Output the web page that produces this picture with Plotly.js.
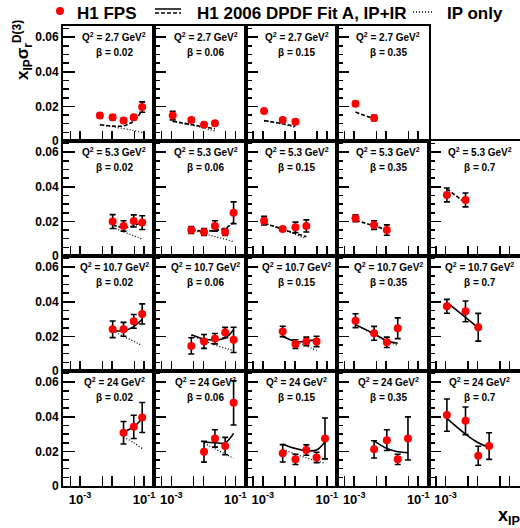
<!DOCTYPE html>
<html><head><meta charset="utf-8">
<script src="https://cdn.plot.ly/plotly-3.0.1.min.js"></script>
<style>html,body{margin:0;padding:0;background:#fff;}#chart{width:520px;height:528px;}</style>
</head><body><div id="chart"></div><script>
// Panel grid: rows = Q^2, columns = beta
const q2Labels = ['2.7', '5.3', '10.7', '24'];
const betaLabels = ['0.02', '0.06', '0.15', '0.35', '0.7'];
const xLabelVals = [0.001, 0.1];
const xLabelText = ['10<sup>-3</sup>', '10<sup>-1</sup>'];
const xMinorVals = [0.0005, 0.005, 0.01, 0.05];

// Q^2 = 2.7 GeV^2 (one entry per beta column)
const xipQ27 = [[0.0042, 0.0105, 0.023, 0.048, 0.088], [0.0011, 0.0042, 0.0105, 0.023], [0.0011, 0.0042, 0.0105], [0.0011, 0.0042], []];
const sigQ27 = [[0.0147, 0.0137, 0.0118, 0.0137, 0.0196], [0.0147, 0.0122, 0.0094, 0.0102], [0.0173, 0.0122, 0.0112], [0.0216, 0.0133], []];
const errQ27 = [[0.0015, 0.0015, 0.0012, 0.0014, 0.003], [0.0025, 0.0012, 0.0012, 0.0012], [0.001, 0.0012, 0.0012], [0.0012, 0.0015], []];
const fitAQ27 = [[0.0094, 0.0086, 0.0088, 0.0115, 0.0178], [0.0114, 0.0095, 0.0082, 0.0071], [0.0118, 0.0100, 0.0085], [0.0167, 0.0128], []];
const ipOnlyQ27 = [[0.0094, 0.0082, 0.0072, 0.0060, 0.0050], [0.0112, 0.0092, 0.0075, 0.0058], [0.0117, 0.0097, 0.0079], [], []];

// Q^2 = 5.3 GeV^2
const xipQ53 = [[0.0105, 0.023, 0.048, 0.088], [0.0042, 0.0105, 0.023, 0.048, 0.088], [0.0011, 0.0042, 0.0105, 0.023], [0.0011, 0.0042, 0.0105], [0.0011, 0.0042]];
const sigQ53 = [[0.0199, 0.0174, 0.0203, 0.0193], [0.015, 0.0139, 0.0174, 0.0139, 0.025], [0.0204, 0.0156, 0.0166, 0.0174], [0.0218, 0.0179, 0.015], [0.0353, 0.0324]];
const errQ53 = [[0.004, 0.003, 0.0035, 0.004], [0.002, 0.002, 0.003, 0.002, 0.0063], [0.0025, 0.0012, 0.003, 0.0035], [0.002, 0.0025, 0.003], [0.004, 0.004]];
const fitAQ53 = [[0.0180, 0.0165, 0.0175, 0.0195], [0.0152, 0.0143, 0.0148, 0.0160, 0.0195], [0.019, 0.0155, 0.0131, 0.0112], [0.0206, 0.0175, 0.0150], [0.039, 0.0305]];
const ipOnlyQ53 = [[0.0166, 0.0140, 0.0117, 0.0097], [0.0152, 0.0130, 0.0113, 0.0097, 0.0083], [0.019, 0.0153, 0.0125, 0.0100], [], []];

// Q^2 = 10.7 GeV^2
const xipQ107 = [[0.0105, 0.023, 0.048, 0.088], [0.0042, 0.0105, 0.023, 0.048, 0.088], [0.0042, 0.0105, 0.023, 0.048], [0.0011, 0.0042, 0.0105, 0.023], [0.0011, 0.0042, 0.0105]];
const sigQ107 = [[0.0241, 0.0241, 0.0287, 0.033], [0.0145, 0.0171, 0.0187, 0.0222, 0.018], [0.0229, 0.0156, 0.0171, 0.0171], [0.0291, 0.0218, 0.0166, 0.0247], [0.0374, 0.0345, 0.0253]];
const errQ107 = [[0.0048, 0.004, 0.004, 0.0058], [0.0047, 0.004, 0.003, 0.003, 0.0073], [0.003, 0.0025, 0.0025, 0.003], [0.004, 0.004, 0.003, 0.006], [0.004, 0.006, 0.008]];
const fitAQ107 = [[0.0233, 0.0233, 0.0257, 0.0301], [0.021, 0.0185, 0.018, 0.0191, 0.0239], [0.0199, 0.0171, 0.0171, 0.0185], [0.0268, 0.0215, 0.0175, 0.016], [0.0397, 0.031, 0.0249]];
const ipOnlyQ107 = [[0.0233, 0.0200, 0.0172, 0.0147], [0.0205, 0.0175, 0.0150, 0.0132, 0.0118], [0.0198, 0.0168, 0.0145, 0.0118], [0.0266, 0.0212, 0.0170, 0.0150], []];

// Q^2 = 24 GeV^2
const xipQ24 = [[0.023, 0.048, 0.088], [0.0105, 0.023, 0.048, 0.088], [0.0042, 0.0105, 0.023, 0.048, 0.088], [0.0042, 0.0105, 0.023, 0.048], [0.0011, 0.0042, 0.0105, 0.023]];
const sigQ24 = [[0.0308, 0.0342, 0.0396], [0.0198, 0.0275, 0.0231, 0.0481], [0.0189, 0.0154, 0.0208, 0.0165, 0.0275], [0.0212, 0.0265, 0.0154, 0.0275], [0.041, 0.0377, 0.0175, 0.0231]];
const errQ24 = [[0.0065, 0.0067, 0.0087], [0.006, 0.005, 0.005, 0.0128], [0.005, 0.003, 0.003, 0.003, 0.0118], [0.005, 0.006, 0.003, 0.0125], [0.0093, 0.008, 0.0055, 0.0077]];
const fitAQ24 = [[0.0313, 0.0342, 0.039], [0.0256, 0.025, 0.025, 0.0304], [0.0242, 0.0217, 0.0204, 0.0208, 0.0256], [0.0261, 0.0217, 0.0198, 0.0192], [0.0391, 0.030, 0.025, 0.0223]];
const ipOnlyQ24 = [[0.0285, 0.025, 0.0217], [0.0248, 0.0215, 0.0185, 0.016], [0.021, 0.0185, 0.0163, 0.0145, 0.0131], [], []];

const rowsX = [xipQ27, xipQ53, xipQ107, xipQ24];
const rowsSig = [sigQ27, sigQ53, sigQ107, sigQ24];
const rowsErr = [errQ27, errQ53, errQ107, errQ24];
const rowsFit = [fitAQ27, fitAQ53, fitAQ107, fitAQ24];
const rowsIP = [ipOnlyQ27, ipOnlyQ53, ipOnlyQ107, ipOnlyQ24];

// page geometry (pixels)
const W = 520, H = 528;
const left0 = 63, colW = 91.4, top0 = 26, rowH = 115;
const FONT = 'Liberation Sans, Arial, Helvetica, sans-serif';

const traces = [];
const layout = {
  width: W, height: H,
  margin: {l: 0, r: 0, t: 0, b: 0},
  paper_bgcolor: '#fff', plot_bgcolor: '#fff',
  showlegend: false,
  font: {family: FONT, color: '#000'},
  annotations: [], shapes: []
};

let n = 0;
for (let r = 0; r < 4; r++) {
  for (let c = 0; c < 5; c++) {
    n++;
    const xs = n === 1 ? '' : String(n);
    const xName = 'xaxis' + xs, yName = 'yaxis' + xs;
    const xRef = 'x' + xs, yRef = 'y' + xs;
    const x0 = left0 + c * colW, x1 = x0 + colW;
    const yTop = top0 + r * rowH, yBot = yTop + rowH;

    layout[xName] = {
      domain: [x0 / W, Math.min(1, x1 / W)], anchor: yRef,
      type: 'log', range: [-3.53, -0.674],
      showgrid: false, zeroline: false,
      showline: true, mirror: true, linewidth: 2, linecolor: '#000',
      ticks: 'inside', ticklen: 10, tickwidth: 1.5, tickcolor: '#000',
      tickmode: 'array', tickvals: xLabelVals, ticktext: xLabelText,
      minor: {ticks: 'inside', ticklen: 10, tickwidth: 1.5, tickcolor: '#000', tickmode: 'array', tickvals: xMinorVals, showgrid: false},
      showticklabels: r === 3,
      tickfont: {family: FONT, size: 13, weight: 'bold', color: '#000'}
    };
    layout[yName] = {
      domain: [1 - yBot / H, 1 - yTop / H], anchor: xRef,
      range: [0, 0.0665],
      showgrid: false, zeroline: false,
      showline: true, mirror: true, linewidth: 2, linecolor: '#000',
      ticks: 'inside', ticklen: 12, tickwidth: 1.5, tickcolor: '#000',
      tickmode: 'linear', tick0: 0, dtick: 0.02,
      minor: {ticks: 'inside', ticklen: 6, tickwidth: 1.5, tickcolor: '#000', dtick: 0.005, tick0: 0, showgrid: false},
      showticklabels: c === 0,
      tickfont: {family: FONT, size: 12, weight: 'bold', color: '#000'}
    };

    const xv = rowsX[r][c];
    if (xv.length === 0) continue;

    // H1 2006 DPDF Fit A (dashed where extrapolated to low Q^2)
    traces.push({
      x: xv, y: rowsFit[r][c], xaxis: xRef, yaxis: yRef,
      mode: 'lines', line: {color: '#000', width: 1.6, shape: 'spline', dash: r < 2 ? '4px,2px' : 'solid'},
      hoverinfo: 'skip'
    });
    // pomeron-only contribution
    if (rowsIP[r][c].length) {
      traces.push({
        x: xv, y: rowsIP[r][c], xaxis: xRef, yaxis: yRef,
        mode: 'lines', line: {color: '#000', width: 1.3, shape: 'spline', dash: '1px,2px'},
        hoverinfo: 'skip'
      });
    }
    // H1 FPS measurement
    traces.push({
      x: xv, y: rowsSig[r][c], xaxis: xRef, yaxis: yRef,
      mode: 'markers',
      marker: {color: '#ff0000', size: 8, line: {width: 0}},
      error_y: {type: 'data', array: rowsErr[r][c], visible: true, color: '#000', thickness: 1.6, width: 3}
    });

    layout.annotations.push({
      xref: xRef + ' domain', yref: yRef, x: 0.56, y: 0.06,
      text: 'Q<sup>2</sup> = ' + q2Labels[r] + ' GeV<sup>2</sup>',
      showarrow: false, xanchor: 'center', yanchor: 'middle',
      font: {family: FONT, size: 10, weight: 'bold', color: '#000'}
    });
    layout.annotations.push({
      xref: xRef + ' domain', yref: yRef, x: 0.56, y: 0.0513,
      text: 'β = ' + betaLabels[c],
      showarrow: false, xanchor: 'center', yanchor: 'middle',
      font: {family: FONT, size: 10, weight: 'bold', color: '#000'}
    });
  }
}

// axis titles
layout.annotations.push({
  xref: 'paper', yref: 'paper', x: 22 / W, y: 1 - 50 / H,
  text: 'x<sub>IP</sub>σ<sub>r</sub><sup>D(3)</sup>', textangle: -90,
  showarrow: false, xanchor: 'center', yanchor: 'middle',
  font: {family: FONT, size: 17, weight: 'bold', color: '#000'}
});
layout.annotations.push({
  xref: 'paper', yref: 'paper', x: 509 / W, y: 1 - 516 / H,
  text: 'x<sub>IP</sub>',
  showarrow: false, xanchor: 'center', yanchor: 'middle',
  font: {family: FONT, size: 18, weight: 'bold', color: '#000'}
});

// legend row
const px = v => v / W, py = v => 1 - v / H;
layout.shapes.push({type: 'circle', xref: 'paper', yref: 'paper', x0: px(56), x1: px(64), y0: py(15), y1: py(7), fillcolor: '#ff0000', line: {width: 0}});
layout.shapes.push({type: 'line', xref: 'paper', yref: 'paper', x0: px(155), x1: px(181), y0: py(9), y1: py(9), line: {color: '#000', width: 1.5}});
layout.shapes.push({type: 'line', xref: 'paper', yref: 'paper', x0: px(155), x1: px(181), y0: py(13), y1: py(13), line: {color: '#000', width: 1.5, dash: '4px,2px'}});
layout.shapes.push({type: 'line', xref: 'paper', yref: 'paper', x0: px(413), x1: px(433), y0: py(12), y1: py(12), line: {color: '#000', width: 1.3, dash: '1px,2px'}});
const legendText = [['H1 FPS', 75], ['H1 2006 DPDF Fit A, IP+IR', 195], ['IP only', 445]];
legendText.forEach(([t, x]) => layout.annotations.push({
  xref: 'paper', yref: 'paper', x: px(x), y: py(13), text: t,
  showarrow: false, xanchor: 'left', yanchor: 'middle',
  font: {family: FONT, size: 17, weight: 'bold', color: '#000'}
}));

Plotly.newPlot('chart', traces, layout, {staticPlot: true, displayModeBar: false});
</script></body></html>
